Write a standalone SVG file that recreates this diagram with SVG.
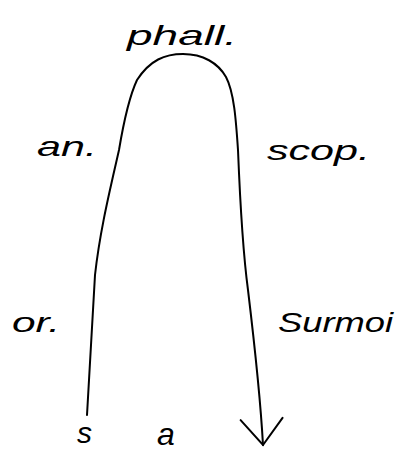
<svg xmlns="http://www.w3.org/2000/svg" width="395" height="452" viewBox="0 0 395 452">
<style>
.lbl{font-family:"Liberation Sans","DejaVu Sans",sans-serif;fill:#000;font-style:italic}
.edge{fill:none;stroke:#000;stroke-width:2;stroke-linecap:round;stroke-linejoin:round}
</style>
<defs>
<marker id="vhead" markerUnits="userSpaceOnUse" viewBox="-30 -25 34 50" refX="0" refY="0" markerWidth="34" markerHeight="50" orient="auto">
<path d="M -26,-21 L 0,0 L -26,21" fill="none" stroke="#000" stroke-width="2" stroke-linecap="round"/>
</marker>
</defs>
<rect width="395" height="452" fill="#fff"/>
<g id="connectors">
<path class="edge" marker-end="url(#vhead)" d="M 87,415 C 90,370 92,320 95,275 C 100,230 110,190 119,150 C 124,120 130,95 137,80 C 150,60 165,54 183,54 C 203,54 218,63 226,77 C 234,92 236,120 238,150 C 240,200 244,260 248,290 C 254,340 260,390 263,445"/>
</g>
<g id="phall"><text class="lbl" x="127" y="45" font-size="28" textLength="110" lengthAdjust="spacingAndGlyphs">phall.</text></g>
<g id="an"><text class="lbl" x="37" y="156" font-size="28" textLength="60" lengthAdjust="spacingAndGlyphs">an.</text></g>
<g id="scop"><text class="lbl" x="267" y="160" font-size="28" textLength="103" lengthAdjust="spacingAndGlyphs">scop.</text></g>
<g id="or"><text class="lbl" x="12" y="332" font-size="28" textLength="48" lengthAdjust="spacingAndGlyphs">or.</text></g>
<g id="surmoi"><text class="lbl" x="278" y="332" font-size="28" textLength="115" lengthAdjust="spacingAndGlyphs">Surmoi</text></g>
<g id="s"><text class="lbl" x="77" y="443" font-size="30">s</text></g>
<g id="a"><text class="lbl" x="157" y="445" font-size="32">a</text></g>
</svg>
